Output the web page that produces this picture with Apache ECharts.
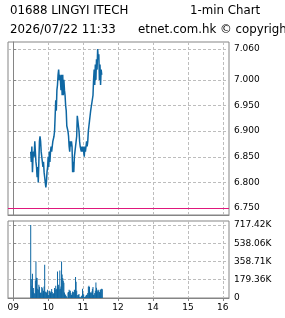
<!DOCTYPE html>
<html><head><meta charset="utf-8">
<script src="https://cdn.jsdelivr.net/npm/echarts@6/dist/echarts.min.js"></script>
<style>html,body{margin:0;padding:0;background:#fff;}#c{width:285px;height:318px;}</style>
</head><body><div id="c"></div>
<script>
// ---- data ----
const stockTitle = '01688 LINGYI ITECH';
const chartType = '1-min Chart';
const stamp = '2026/07/22 11:33';
const credit = 'etnet.com.hk \u00a9 copyright';
const startMinute = 30; // 09:30, minutes after 09:00 (lunch hour removed on axis)
const prevClose = 6.75;
const prices = [
 6.86,6.84,6.87,6.82,6.85,6.86,6.85,6.88,6.86,6.84,
 6.83,6.81,6.83,6.80,6.84,6.88,6.89,6.88,6.86,6.85,
 6.84,6.83,6.84,6.82,6.81,6.80,6.79,6.80,6.82,6.83,
 6.85,6.83,6.86,6.84,6.86,6.87,6.86,6.87,6.88,6.88,
 6.89,6.90,6.93,6.96,6.94,6.98,6.99,7.01,7.02,7.00,
 7.01,7.00,6.98,7.01,6.97,7.01,6.97,7.00,6.98,6.97,
 6.95,6.94,6.91,6.91,6.90,6.89,6.87,6.86,6.88,6.87,
 6.88,6.87,6.82,6.84,6.82,6.85,6.86,6.87,6.88,6.89,
 6.93,6.92,6.91,6.90,6.88,6.87,6.87,6.86,6.87,6.86,
 6.87,6.86,6.85,6.87,6.86,6.87,6.88,6.87,6.88,6.90,
 6.91,6.92,6.93,6.94,6.94,6.94,6.94,6.97,7.00,7.02,
 6.99,7.03,7.00,7.04,7.02,7.06,7.04,7.05,7.00,7.03,
 6.99,7.02,7.01,7.01
];
const volumesK = [
 717.42,186,120,238,60,98,49,40,173,359,
 200,196,90,82,130,110,49,52,55,108,
 95,45,70,112,326,60,65,50,60,82,
 35,30,72,65,52,65,88,60,40,45,
 49,98,80,120,85,90,261,110,130,85,
 271,90,114,359,230,196,170,150,55,30,
 35,20,10,0,55,60,82,72,70,49,
 30,35,65,60,55,82,75,205,160,72,
 30,15,33,40,10,0,10,20,25,91,
 40,35,10,5,15,25,30,35,49,110,
 120,108,60,49,50,65,90,108,30,35,
 49,70,153,100,82,65,72,82,60,49,
 82,88,91,85
];
const hourTicks = [0,60,120,180,240,300,360];
const hourLabels = ['09','10','11','12','14','15','16'];
const priceTicks = [6.75,6.80,6.85,6.90,6.95,7.00,7.06];
const volTicksK = [0,179.36,358.71,538.06,717.42];

// ---- chart ----
const FONT = 'DejaVu Sans';
const BLUE = '#0e67a3';
const GRIDC = '#bdbdbd';
const AXC = '#858585';
const TFONT = '11.8px "DejaVu Sans"';
const chart = echarts.init(document.getElementById('c'), null, {renderer:'canvas'});
const hourIdx = v => hourTicks.indexOf(Math.round(v));
const xBase = (gi, showLabels) => ({
  type:'value', gridIndex:gi, min:-9, max:370.6,
  axisLine:{show:true, lineStyle:{color:AXC, width:1}},
  axisTick:{show:showLabels, customValues:hourTicks, length:3, inside:false, lineStyle:{color:AXC}},
  axisLabel:{show:showLabels, customValues:hourTicks, margin:5, color:'#000', fontFamily:FONT, fontSize:9,
     formatter:v => { const i = hourIdx(v); return i>=0 ? hourLabels[i] : ''; }},
  splitLine:{show:true, lineStyle:{color:GRIDC, type:[3,2], width:1}}
});
chart.setOption({
  animation:false,
  backgroundColor:'#fff',
  graphic:[
    {type:'text', left:10, top:5, style:{text:stockTitle, font:TFONT, fill:'#000'}},
    {type:'text', left:190, top:5, style:{text:chartType, font:TFONT, fill:'#000'}},
    {type:'text', left:10, top:24, style:{text:stamp, font:TFONT, fill:'#000'}},
    {type:'text', left:138, top:24, style:{text:credit, font:TFONT, fill:'#000'}}
  ],
  grid:[
    {left:8, top:42, width:221, height:173, show:true, borderColor:AXC, borderWidth:1, backgroundColor:'transparent'},
    {left:8, top:221, width:221, height:77, show:true, borderColor:AXC, borderWidth:1, backgroundColor:'transparent'}
  ],
  xAxis:[ xBase(0,false), xBase(1,true) ],
  yAxis:[
    {type:'value', gridIndex:0, position:'right', min:6.7364, max:7.0739,
     axisLine:{show:true, lineStyle:{color:AXC}},
     axisTick:{show:true, customValues:priceTicks, length:3, lineStyle:{color:AXC}},
     axisLabel:{customValues:priceTicks, margin:5, color:'#000', fontFamily:FONT, fontSize:9,
        formatter:v => v.toFixed(3)},
     splitLine:{show:true, lineStyle:{color:GRIDC, type:[3,2], width:1}}},
    {type:'value', gridIndex:1, position:'right', min:0, max:756,
     axisLine:{show:true, lineStyle:{color:AXC}},
     axisTick:{show:true, customValues:volTicksK, length:3, lineStyle:{color:AXC}},
     axisLabel:{customValues:volTicksK, margin:5, color:'#000', fontFamily:FONT, fontSize:9,
        formatter:v => v===0 ? '0' : v.toFixed(2)+'K'},
     splitLine:{show:true, lineStyle:{color:GRIDC, type:[3,2], width:1}}}
  ],
  series:[
    {type:'line', xAxisIndex:0, yAxisIndex:0, showSymbol:false, symbol:'none',
     data:prices.map((p,i)=>[startMinute+i, p]),
     lineStyle:{color:BLUE, width:1.5}, itemStyle:{color:BLUE},
     markLine:{silent:true, symbol:'none', label:{show:false},
       lineStyle:{color:'#e0177c', width:1.2, type:'solid'},
       data:[{yAxis:prevClose}]}},
    {type:'bar', xAxisIndex:1, yAxisIndex:1, barWidth:1,
     data:volumesK.map((v,i)=>[startMinute+i, v]),
     itemStyle:{color:BLUE}}
  ]
});
</script></body></html>
